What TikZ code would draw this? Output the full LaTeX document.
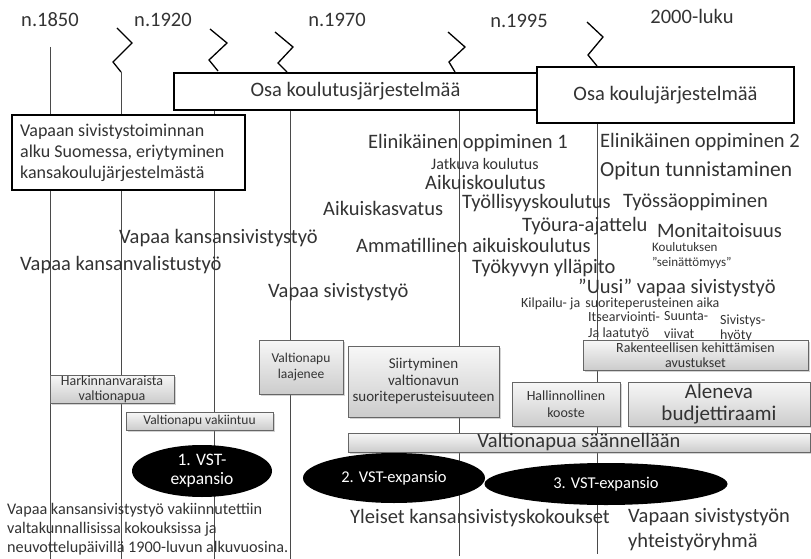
\documentclass[tikz,border=0pt]{standalone}
\usepackage{fontspec}
\setmainfont{Carlito}
\usetikzlibrary{shapes.geometric,shadows}
\definecolor{ink}{HTML}{333333}
\definecolor{rule}{HTML}{4A4A4A}
\definecolor{edge}{HTML}{666666}
\begin{document}
\begin{tikzpicture}[x=1pt,y=-1pt,
  lbl/.style={inner sep=0pt, anchor=west, text=ink},
  big/.style={font=\fontsize{20.5}{24}\selectfont},
  sml/.style={font=\fontsize{14}{16}\selectfont},
  tiny/.style={font=\fontsize{13}{15}\selectfont},
  era/.style={draw=black, line width=2pt, fill=white, inner sep=0pt, text=ink},
  aid/.style={draw=edge, line width=0.6pt, top color=gray!6, bottom color=gray!40,
    drop shadow={shadow xshift=1.8pt, shadow yshift=-1.8pt, opacity=0.35},
    inner sep=0pt, align=center, text=ink},
  wave/.style={ellipse, fill=black, text=white, inner sep=0pt, align=center},
  zig/.style={line width=1.3pt, black, line join=miter},
  timeline/.style={rule, line width=0.8pt}
]
\useasboundingbox (0,0) rectangle (811,559);

% period headings
\node[lbl, big, anchor=center] (y1850) at (50,20) {n.1850};
\node[lbl, big, anchor=center] (y1920) at (163,20) {n.1920};
\node[lbl, big, anchor=center] (y1970) at (337,20) {n.1970};
\node[lbl, big, anchor=center] (y1995) at (519,21) {n.1995};
\node[lbl, big, anchor=center] (y2000) at (692,16) {2000-luku};

% break marks
\draw[zig] (117,28) -- (132,43) -- (113,62) -- (121,72);
\draw[zig] (210,29) -- (227,43) -- (209,60) -- (218,71);
\draw[zig] (275,32) -- (293,47) -- (278,63) -- (287,72);
\draw[zig] (448,32) -- (465,47) -- (449,62) -- (455,72);
\draw[zig] (587,22) -- (603,37) -- (588,55) -- (597,66);

% time lines
\coordinate (a1) at (50,47);   \coordinate (b1) at (50,559);
\coordinate (a2) at (121,72);  \coordinate (b2) at (121,559);
\coordinate (a3) at (214,110); \coordinate (b3) at (214,559);
\coordinate (a4) at (290,110); \coordinate (b4) at (290,559);
\coordinate (a5) at (459,110); \coordinate (b5) at (459,556);
\coordinate (a6) at (597,123); \coordinate (b6) at (597,554);
\foreach \i in {1,...,6} \draw[timeline] (a\i) -- (b\i);

% framed eras
\node[era, minimum width=363pt, minimum height=37pt, font=\fontsize{20.5}{24}\selectfont]
  (koulutus) at (355.5,91.5) {Osa koulutusjärjestelmää};
\node[era, minimum width=257pt, minimum height=56pt, font=\fontsize{20.5}{24}\selectfont]
  (koulu) at (665.5,95) {Osa koulujärjestelmää};
\node[era, minimum width=233pt, minimum height=75pt] (alku) at (128.5,152.5) {};
\node[lbl, align=left, font=\fontsize{18}{21}\selectfont] (alkutxt) at (20,153)
  {Vapaan sivistystoiminnan\\alku Suomessa, eriytyminen\\kansakoulujärjestelmästä};

% concepts
\node[lbl, big] (kansansiv) at (119,238) {Vapaa kansansivistystyö};
\node[lbl, big] (kansanval) at (20,265) {Vapaa kansanvalistustyö};
\node[lbl, big] (vapaasiv) at (268,292) {Vapaa sivistystyö};
\node[lbl, big] (elin1) at (368,143) {Elinikäinen oppiminen 1};
\node[lbl, font=\fontsize{16}{18}\selectfont] (jatkuva) at (431,164) {Jatkuva koulutus};
\node[lbl, big] (aikkoul) at (425,182) {Aikuiskoulutus};
\node[lbl, big] (aikkasv) at (323,208) {Aikuiskasvatus};
\node[lbl, big] (tyollis) at (462,203) {Työllisyyskoulutus};
\node[lbl, big] (tyoura) at (522,226) {Työura-ajattelu};
\node[lbl, big] (ammat) at (356,245) {Ammatillinen aikuiskoulutus};
\node[lbl, big] (tyokyky) at (472,268) {Työkyvyn ylläpito};
\node[lbl, big] (uusi) at (578,288) {”Uusi” vapaa sivistystyö};
\node[lbl, sml] (kilpailu) at (521,304) {Kilpailu- ja\hspace{2pt} suoriteperusteinen aika};
\node[lbl, big] (elin2) at (600,142) {Elinikäinen oppiminen 2};
\node[lbl, font=\fontsize{21.5}{24}\selectfont] (opitun) at (600,171) {Opitun tunnistaminen};
\node[lbl, big] (tyossa) at (623,202) {Työssäoppiminen};
\node[lbl, font=\fontsize{20.5}{24}\selectfont] (moni) at (657,231) {Monitaitoisuus};
\node[lbl, tiny] (koulutuksen) at (652,247) {Koulutuksen};
\node[lbl, tiny] (seinat) at (652,263) {”seinättömyys”};
\node[lbl, align=left, font=\fontsize{14}{16}\selectfont] (itsearv) at (588,326) {Itsearviointi-\\Ja laatutyö};
\node[lbl, align=left, font=\fontsize{14}{18}\selectfont] (suunta) at (664,325) {Suunta-\\viivat};
\node[lbl, align=left, font=\fontsize{14}{15}\selectfont] (hyoty) at (720,328) {Sivistys-\\hyöty};

% state aid boxes
\node[aid, minimum width=124pt, minimum height=28pt, font=\fontsize{14}{15}\selectfont]
  (harkinta) at (112,389) {Harkinnanvaraista\\valtionapua};
\node[aid, minimum width=147pt, minimum height=18pt, font=\fontsize{13.5}{15}\selectfont]
  (vakiintuu) at (199.5,421) {Valtionapu vakiintuu};
\node[aid, minimum width=84pt, minimum height=54pt, font=\fontsize{13.5}{16}\selectfont]
  (laajenee) at (301,367) {Valtionapu\\laajenee};
\node[aid, minimum width=151pt, minimum height=71pt, font=\fontsize{15}{16.5}\selectfont]
  (siirtyminen) at (423.5,381.5) {Siirtyminen\\valtionavun\\suoriteperusteisuuteen};
\node[aid, minimum width=108pt, minimum height=44pt, font=\fontsize{14}{17}\selectfont]
  (kooste) at (566,404) {Hallinnollinen\\kooste};
\node[aid, minimum width=225pt, minimum height=30pt, font=\fontsize{14}{14.5}\selectfont]
  (rakenne) at (695.5,355) {Rakenteellisen kehittämisen\\avustukset};
\node[aid, minimum width=182pt, minimum height=44pt, font=\fontsize{21}{22}\selectfont]
  (aleneva) at (719,404) {Aleneva\\budjettiraami};
\node[aid, minimum width=462pt, minimum height=19pt, text height=13pt, text depth=4pt,
  font=\fontsize{20.5}{22}\selectfont] (saannellaan) at (579,442.5) {Valtionapua säännellään};

% expansion waves
\node[wave, minimum width=140pt, minimum height=52pt, font=\fontsize{17.5}{19}\selectfont]
  (vst1) at (202,471) {1. VST-\\expansio};
\node[wave, minimum width=182pt, minimum height=50pt, font=\fontsize{16.5}{18}\selectfont]
  (vst2) at (394,478) {2. VST-expansio};
\node[wave, minimum width=243pt, minimum height=42pt, font=\fontsize{16.5}{18}\selectfont]
  (vst3) at (606,484) {3. VST-expansio};

% meetings and cooperation
\node[lbl, align=left, font=\fontsize{16.2}{19}\selectfont] (kokoukset1900) at (7,529)
  {Vapaa kansansivistystyö vakiinnutettiin\\valtakunnallisissa kokouksissa ja\\neuvottelupäivillä 1900-luvun alkuvuosina.};
\node[lbl, font=\fontsize{20.5}{24}\selectfont] (yleiset) at (350,518) {Yleiset kansansivistyskokoukset};
\node[lbl, align=left, font=\fontsize{20.5}{25}\selectfont] (yhteistyo) at (628,529.5)
  {Vapaan sivistystyön\\yhteistyöryhmä};
\end{tikzpicture}
\end{document}
